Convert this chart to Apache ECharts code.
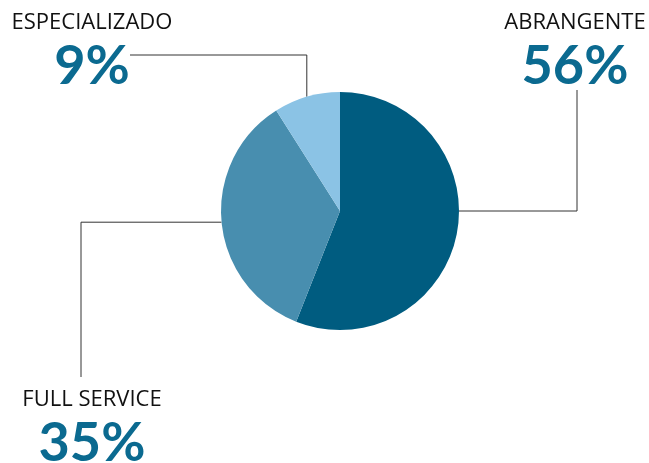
<!DOCTYPE html>
<html>
<head>
<meta charset="utf-8">
<script src="https://cdn.jsdelivr.net/npm/echarts@6/dist/echarts.min.js"></script>
<style>html,body{margin:0;padding:0;background:#fff}#c{width:649px;height:463px}</style>
</head>
<body>
<div id="c"></div>
<script>
var categories = ['ABRANGENTE', 'FULL SERVICE', 'ESPECIALIZADO'];
var values = [56, 35, 9];
var colors = ['#005c80', '#488eaf', '#8bc3e5'];

// label block placement (style/layout config)
var labelPlace = [
  {x: 575, y: 9},
  {x: 92, y: 386},
  {x: 92, y: 9}
];

var chart = echarts.init(document.getElementById('c'), null, {renderer: 'canvas'});
chart.setOption({
  animation: false,
  backgroundColor: '#ffffff',
  series: [{
    type: 'pie',
    center: [340, 211],
    radius: [0, 119],
    startAngle: 90,
    clockwise: true,
    avoidLabelOverlap: false,
    data: categories.map(function (n, i) {
      return {name: n, value: values[i], itemStyle: {color: colors[i]}};
    }),
    label: {
      show: true,
      position: 'outside',
      formatter: '{n|{b}}\n{p|{c}%}',
      rich: {
        n: {fontFamily: 'Open Sans', fontSize: 22, color: '#111111', lineHeight: 28, align: 'center'},
        p: {fontFamily: 'Lato', fontWeight: 'bold', fontSize: 54, color: '#0b6a90', lineHeight: 60, align: 'center'}
      }
    },
    labelLine: {show: true, lineStyle: {color: '#333333', width: 1}},
    labelLayout: function (p) {
      var pl = labelPlace[p.dataIndex];
      var r = p.rect;
      var a = p.labelLinePoints ? p.labelLinePoints[0] : [r.x + r.width / 2, r.y + r.height / 2];
      var pts;
      if (p.dataIndex === 0) {
        var ay = r.y + r.height / 2;
        var ax = r.x + r.width;
        pts = [[ax, ay], [pl.x + 2, ay], [pl.x + 2, 90]];
      } else if (p.dataIndex === 1) {
        pts = [a, [pl.x - 11, a[1]], [pl.x - 11, 377]];
      } else {
        pts = [a, [a[0], 55], [130, 55]];
      }
      return {x: pl.x, y: pl.y, align: 'center', verticalAlign: 'top', labelLinePoints: pts};
    }
  }]
});
</script>
</body>
</html>
